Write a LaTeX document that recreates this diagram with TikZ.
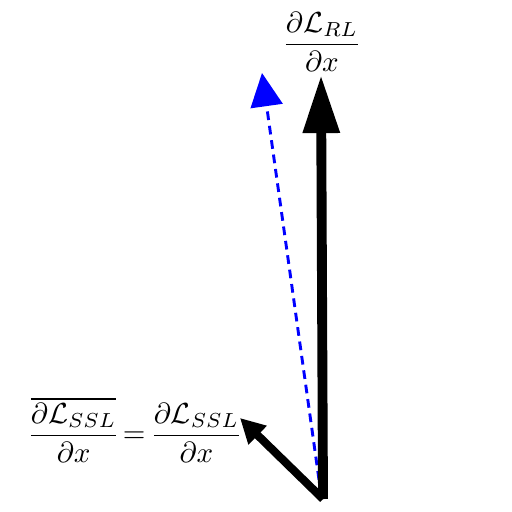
\documentclass[tikz,border=0pt]{standalone}
\usetikzlibrary{arrows.meta}
\begin{document}
\begin{tikzpicture}[x=0.0121cm,y=-0.0121cm,
  bigarrow/.style={line width=3.4pt,-{Triangle[length=20pt,width=12pt]}},
  smallarrow/.style={line width=2.8pt,-{Triangle[length=8.5pt,width=8.5pt]}},
  bluearrow/.style={blue,line width=1pt,dash pattern=on 3pt off 2pt,-{Triangle[length=11.5pt,width=11pt]}},
  lbl/.style={inner sep=0pt}]
\useasboundingbox (0,0) rectangle (512,512);
\coordinate (O) at (323,499);
\coordinate (Ob) at (321,494);
\coordinate (T1) at (321,75);
\coordinate (T2) at (240,418);
\coordinate (T3) at (262,73);
\draw[bluearrow] (Ob) -- (T3);
\draw[bigarrow] (O) -- (T1);
\draw[smallarrow] (O) -- (T2);
\node[lbl] (rl) at (322,42) {$\displaystyle\frac{\partial\mathcal{L}_{RL}}{\partial x}$};
\node[lbl] (ssl) at (135,430) {$\displaystyle\frac{\overline{\partial\mathcal{L}_{SSL}}}{\partial x}\mkern2mu{=}\mkern3mu\frac{\partial\mathcal{L}_{SSL}}{\partial x}$};
\end{tikzpicture}
\end{document}
